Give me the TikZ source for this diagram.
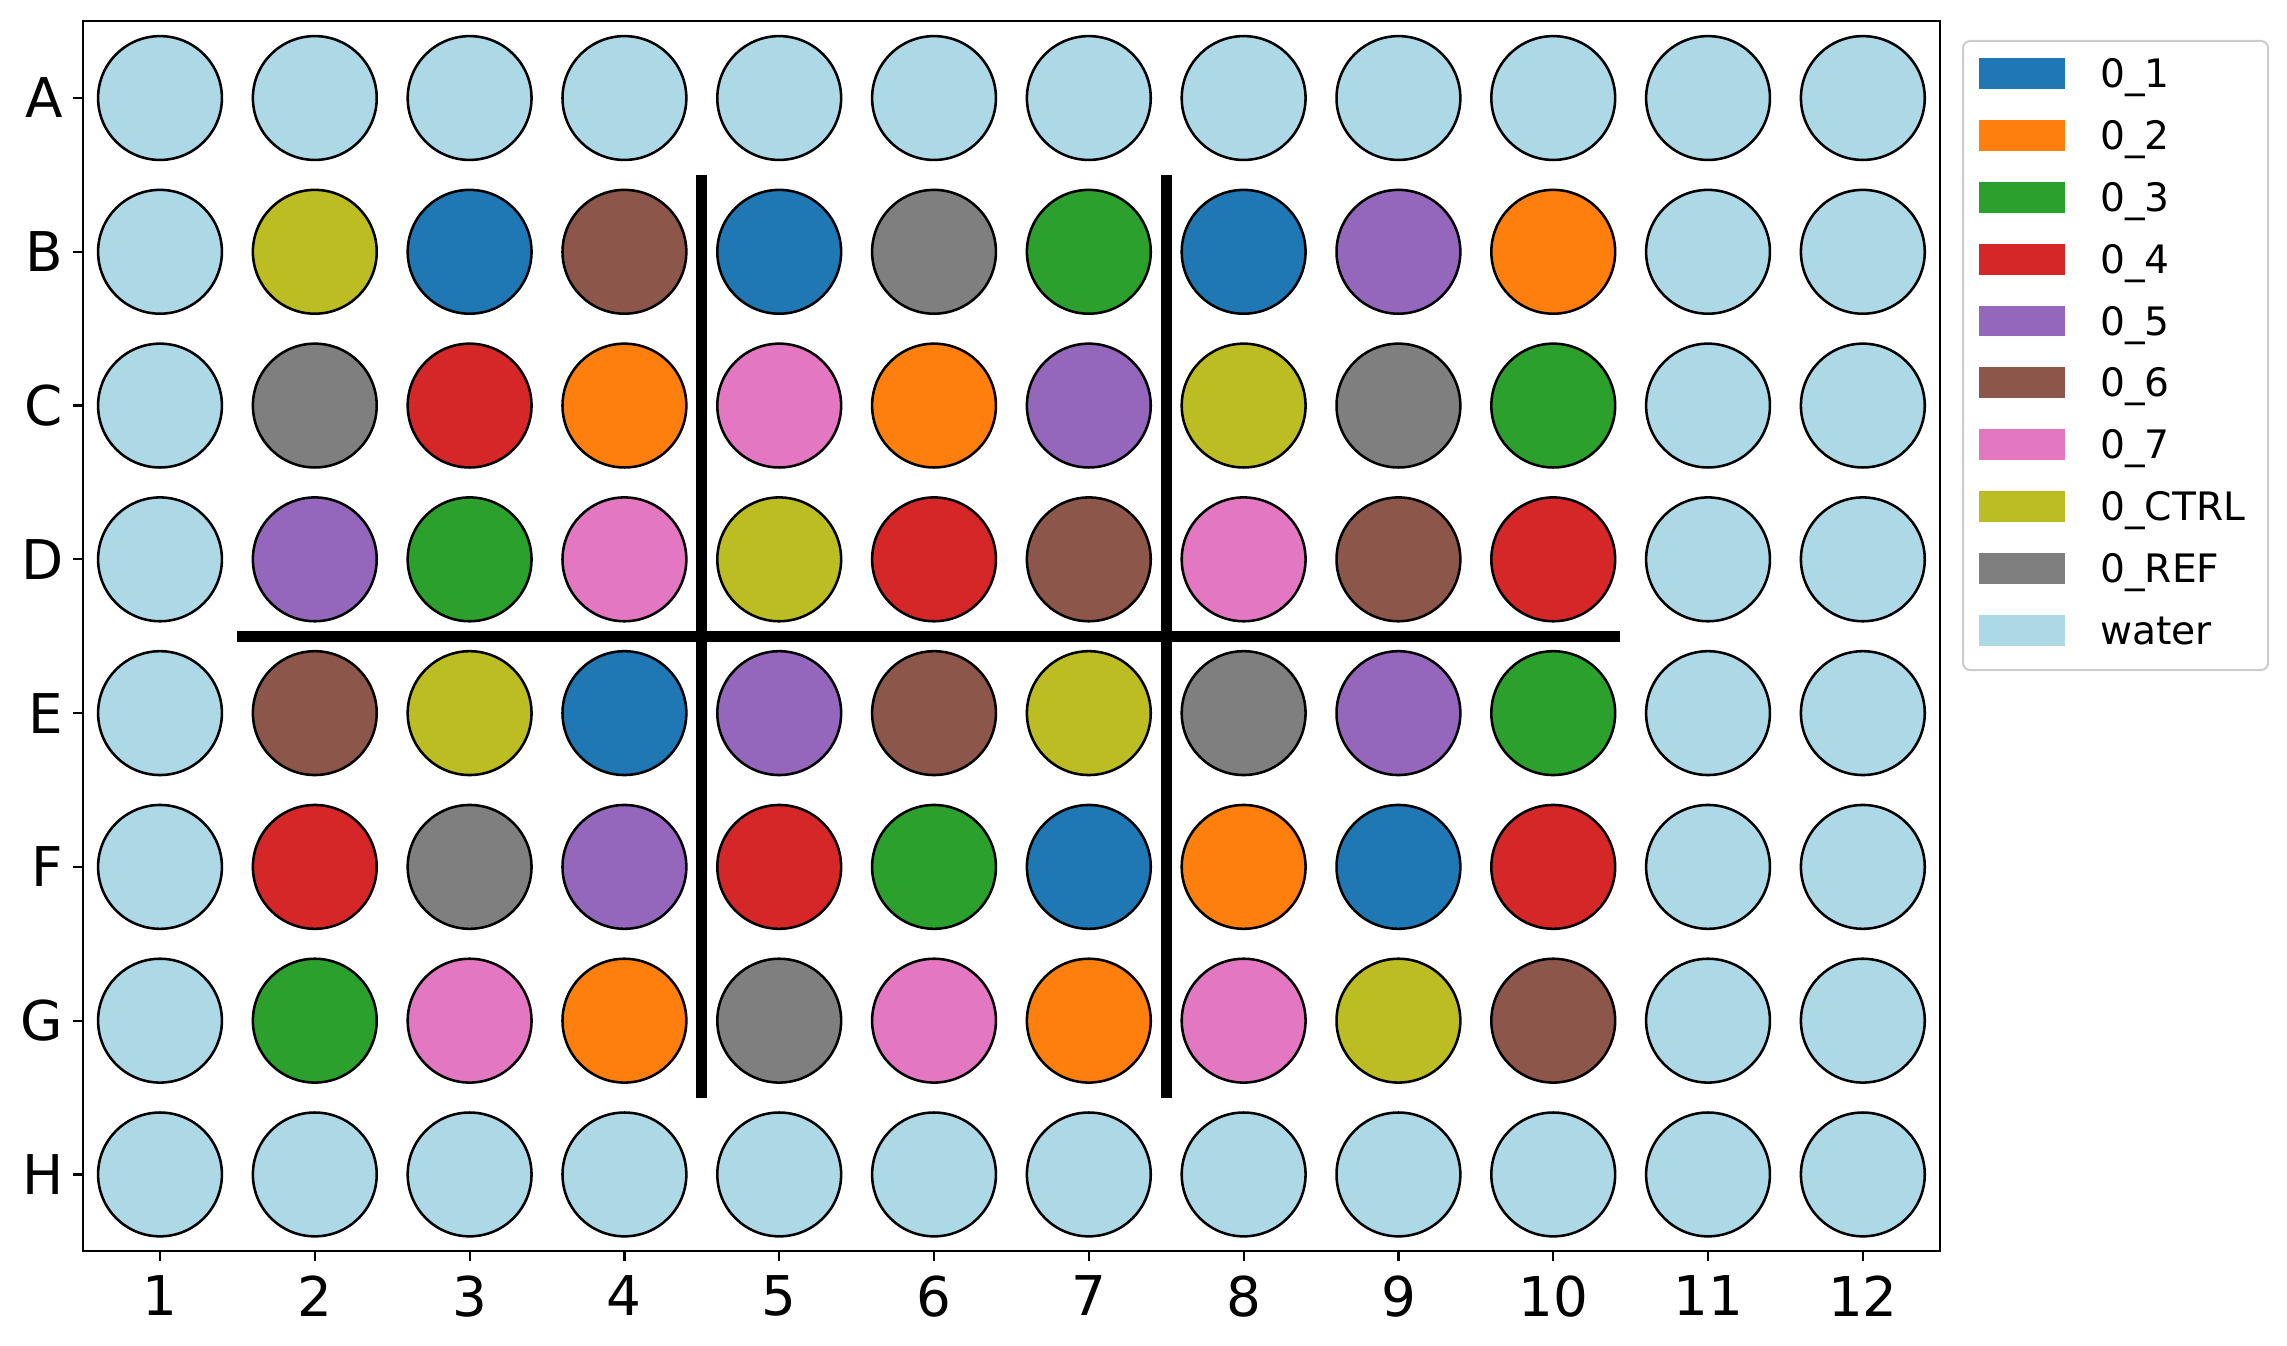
\documentclass[tikz,border=0pt]{standalone}
\usepackage{fontspec}
\setmainfont{DejaVu Sans}
\usepackage{tikz}
\usetikzlibrary{positioning}

\definecolor{c1}{HTML}{1F77B4}
\definecolor{c2}{HTML}{FF7F0E}
\definecolor{c3}{HTML}{2CA02C}
\definecolor{c4}{HTML}{D62728}
\definecolor{c5}{HTML}{9467BD}
\definecolor{c6}{HTML}{8C564B}
\definecolor{c7}{HTML}{E377C2}
\definecolor{cC}{HTML}{BCBD22}
\definecolor{cR}{HTML}{7F7F7F}
\definecolor{cW}{HTML}{ADD8E6}

\begin{document}
\begin{tikzpicture}[
  x=1.5cm, y=-1.49cm,
  well/.style={circle, draw, line width=0.7pt, minimum size=1.2cm, inner sep=0pt},
  divider/.style={line width=3pt},
  axisline/.style={line width=0.6pt},
  ticklab/.style={font=\fontsize{15.1}{18}\selectfont, inner sep=0pt},
  legpatch/.style={minimum width=0.833cm, minimum height=0.30cm, inner sep=0pt},
  leglab/.style={font=\fontsize{10.8}{13}\selectfont, inner sep=0pt, text height=7.8pt, text depth=0pt},
  legframe/.style={draw=black!20, line width=0.55pt, rounded corners=2pt}
]
  \useasboundingbox (-0.0336,0.3626) rectangle (14.74,9.11);

  % plate wells
  \foreach \r/\codes [count=\rowi] in {
      A/{W,W,W,W,W,W,W,W,W,W,W,W},
      B/{W,C,1,6,1,R,3,1,5,2,W,W},
      C/{W,R,4,2,7,2,5,C,R,3,W,W},
      D/{W,5,3,7,C,4,6,7,6,4,W,W},
      E/{W,6,C,1,5,6,C,R,5,3,W,W},
      F/{W,4,R,5,4,3,1,2,1,4,W,W},
      G/{W,3,7,2,R,7,2,7,C,6,W,W},
      H/{W,W,W,W,W,W,W,W,W,W,W,W}}
    \foreach \c [count=\coli] in \codes
      \node[well, fill=c\c] (\r\coli) at (\coli,\rowi) {};

  % frame and ticks
  \draw[axisline] (0.5,0.5) rectangle (12.5,8.5);
  \foreach \coli in {1,...,12}
    \draw[axisline] (\coli,8.5) -- ++(0,0.065) node[ticklab, below=0.126cm] (x\coli) {\coli};
  \foreach \r [count=\rowi] in {A,B,C,D,E,F,G,H}
    \draw[axisline] (0.5,\rowi) -- ++(-0.065,0) node[ticklab, left=0.08cm] (y\r) {\r};

  % block dividers
  \draw[divider] (4.5,1.5) -- (4.5,7.5);
  \draw[divider] (7.5,1.5) -- (7.5,7.5);
  \draw[divider] (1.5,4.5) -- (10.43,4.5);

  % legend
  \draw[legframe] (12.647,0.629) rectangle (14.618,4.72);
  \foreach \c/\name [count=\i] in {1/0\_1, 2/0\_2, 3/0\_3, 4/0\_4, 5/0\_5, 6/0\_6, 7/0\_7, C/0\_CTRL, R/0\_REF, W/water}{
    \node[legpatch, fill=c\c] (p\c) at (13.028,{0.842+(\i-1)*0.402}) {};
    \node[leglab, right=0.33cm of p\c] (l\c) {\name};
  }
\end{tikzpicture}
\end{document}
